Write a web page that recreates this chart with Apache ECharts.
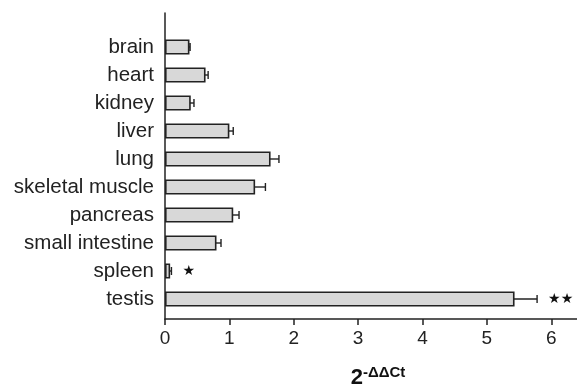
<!DOCTYPE html>
<html><head><meta charset="utf-8">
<script src="https://cdn.jsdelivr.net/npm/echarts@6/dist/echarts.min.js"></script>
<style>html,body{margin:0;padding:0;background:#fff}#c{width:577px;height:385px}</style>
</head><body><div id="c"></div>
<script>
const categories = ['brain','heart','kidney','liver','lung','skeletal muscle','pancreas','small intestine','spleen','testis'];
const values = [0.38, 0.63, 0.40, 1.00, 1.64, 1.40, 1.06, 0.80, 0.08, 5.43];
const errors = [0.01, 0.04, 0.05, 0.06, 0.13, 0.16, 0.09, 0.07, 0.02, 0.35];
const marks = ['', '', '', '', '', '', '', '', '★', '★★'];
const xTicks = [0, 1, 2, 3, 4, 5, 6];

const chart = echarts.init(document.getElementById('c'));
const errData = values.map((v, i) => [v, i, errors[i]]);
chart.setOption({
  animation: false,
  grid: [
    {left: 165, right: 0, top: 33, bottom: 72, outerBoundsMode: 'none', containLabel: false},
    {left: 165, right: 0, top: 13, bottom: 66, outerBoundsMode: 'none', containLabel: false}
  ],
  xAxis: [{
    type: 'value', gridIndex: 0, min: xTicks[0], max: 6.4, interval: 1, offset: 6,
    splitLine: {show: false},
    axisLine: {show: true, lineStyle: {color: '#222', width: 1.5}},
    axisTick: {show: true, length: 6, lineStyle: {color: '#222', width: 1.5}},
    axisLabel: {color: '#222', fontSize: 19, fontFamily: 'Liberation Sans, Arial', margin: 10, showMaxLabel: false},
    name: '{b|2}{s|-ΔΔCt}', nameLocation: 'middle', nameGap: 46,
    nameTextStyle: {padding: [0, 0, 0, 14], rich: {
      b: {fontSize: 22, fontWeight: 'bold', color: '#111', fontFamily: 'Liberation Sans, Arial', verticalAlign: 'bottom', lineHeight: 24},
      s: {fontSize: 15, fontWeight: 'bold', color: '#111', fontFamily: 'Liberation Sans, Arial', verticalAlign: 'top', lineHeight: 24, padding: [0,0,8,0]}
    }}
  }, {
    type: 'value', gridIndex: 1, min: 0, max: 1, show: false
  }],
  yAxis: [{
    type: 'category', gridIndex: 0, data: categories, inverse: true,
    axisLine: {show: false}, axisTick: {show: false},
    axisLabel: {interval: 0, hideOverlap: false, color: '#222', fontSize: 20.5, fontFamily: 'Liberation Sans, Arial', margin: 11}
  }, {
    type: 'value', gridIndex: 1, min: 0, max: 1,
    axisLine: {show: true, lineStyle: {color: '#222', width: 1.5}},
    axisTick: {show: false}, axisLabel: {show: false}, splitLine: {show: false}
  }],
  series: [{
    type: 'bar', xAxisIndex: 0, yAxisIndex: 0, data: values, barWidth: 15,
    itemStyle: {color: '#d8d8d8', borderColor: '#222', borderWidth: 1.6}
  }, {
    type: 'custom', xAxisIndex: 0, yAxisIndex: 0, data: errData,
    encode: {x: 0, y: 1},
    renderItem: function (params, api) {
      const v = api.value(0), i = api.value(1), e = api.value(2);
      const m = marks[params.dataIndex];
      const lo = api.coord([v - e, i]);
      const hi = api.coord([v + e, i]);
      const h = 4;
      const st = {stroke: '#222', lineWidth: 1.4};
      const children = [
        {type: 'line', shape: {x1: lo[0], y1: lo[1], x2: hi[0], y2: hi[1]}, style: st},
        {type: 'line', shape: {x1: lo[0], y1: lo[1] - h, x2: lo[0], y2: lo[1] + h}, style: st},
        {type: 'line', shape: {x1: hi[0], y1: hi[1] - h, x2: hi[0], y2: hi[1] + h}, style: st}
      ];
      if (m) {
        children.push({type: 'text', style: {text: m, x: hi[0] + 11, y: hi[1], align: 'left', verticalAlign: 'middle',
          fill: '#111', font: '14px DejaVu Sans'}});
      }
      return {type: 'group', children: children};
    }
  }]
});
</script></body></html>
